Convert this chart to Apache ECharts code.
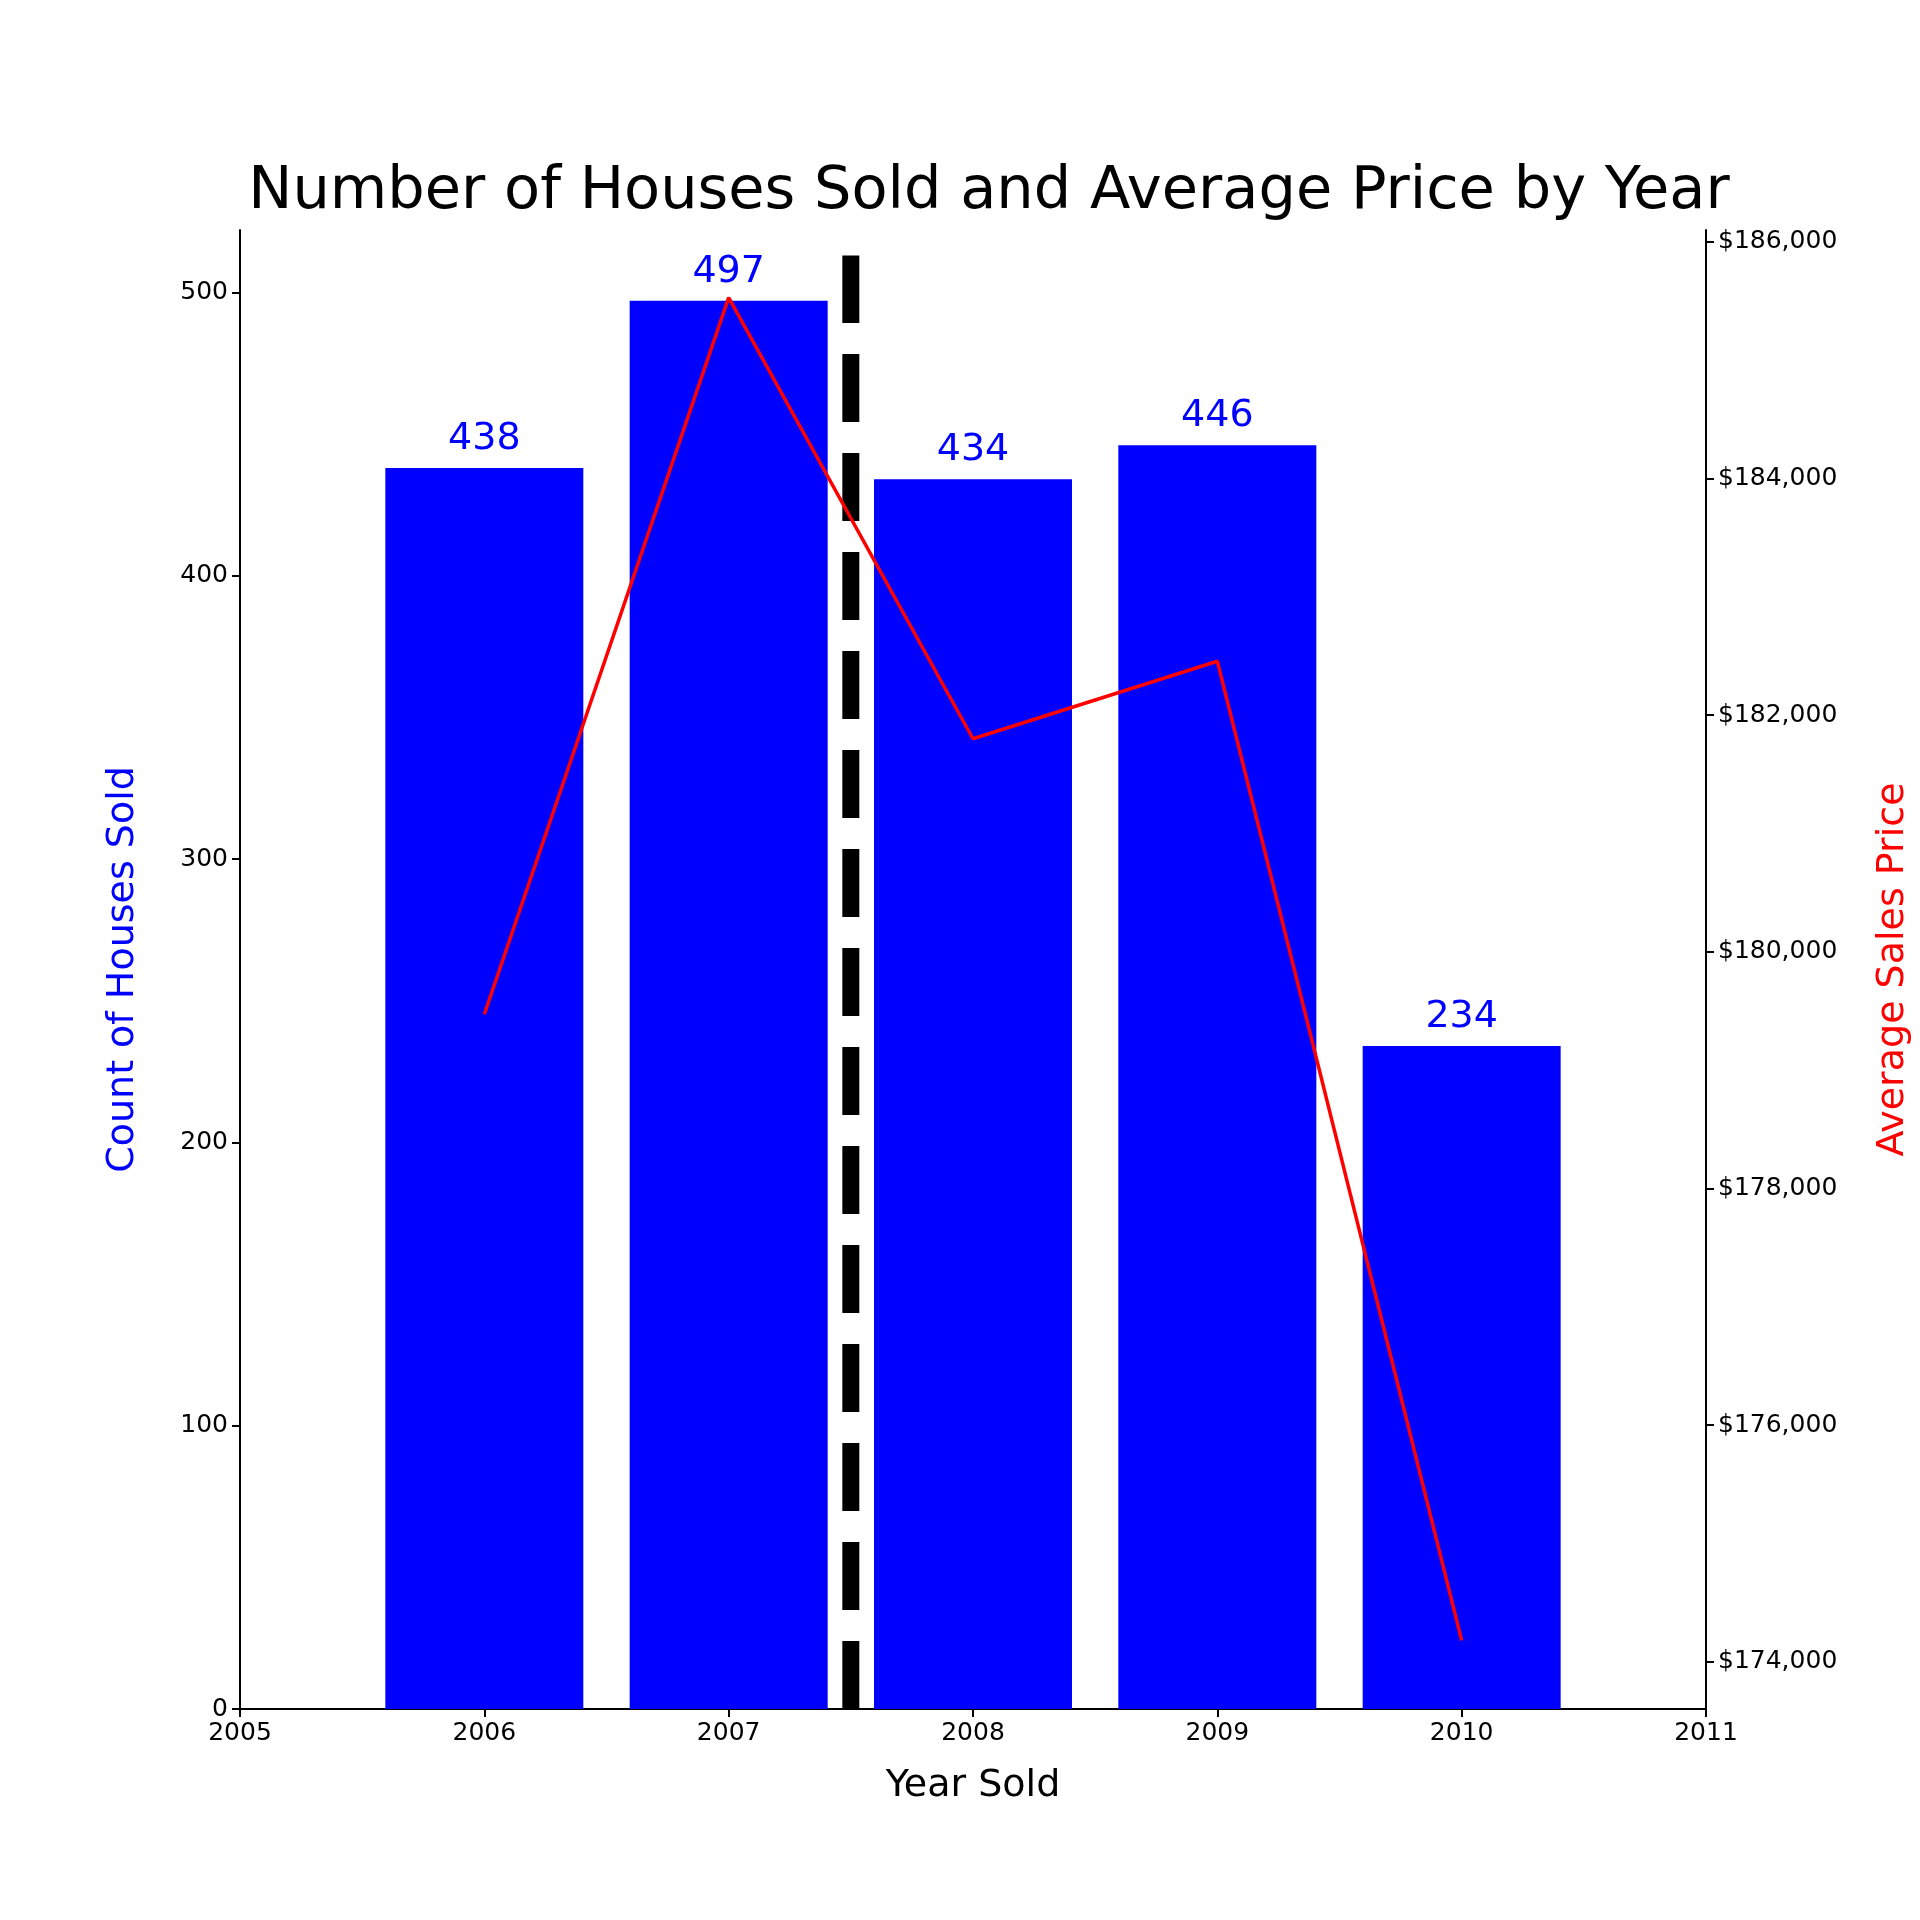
<!DOCTYPE html>
<html><head><meta charset="utf-8">
<script src="https://cdn.jsdelivr.net/npm/echarts@6/dist/echarts.min.js"></script>
<style>html,body{margin:0;background:#fff}#c{width:1920px;height:1920px}</style>
</head><body><div id="c"></div>
<script>
const years = [2006, 2007, 2008, 2009, 2010];
const counts = [438, 497, 434, 446, 234];
const prices = [179472, 185528, 181800, 182455, 174180];
const priceTicks = [174000, 176000, 178000, 180000, 182000, 184000, 186000];
const splitYear = 2007.5;
const splitTop = 513;

const font = 'DejaVu Sans';
const chart = echarts.init(document.getElementById('c'));
const money = v => '$' + Math.round(v).toLocaleString('en-US');
chart.setOption({
  animation: false,
  textStyle: { fontFamily: font },
  title: {
    text: 'Number of Houses Sold and Average Price by Year',
    left: 984, top: 158, textAlign: 'center',
    textStyle: { fontSize: 59, fontWeight: 'normal', color: '#000', fontFamily: font }
  },
  grid: { left: 240, right: 192, top: 230, bottom: 211 },
  xAxis: {
    type: 'value', min: 2005, max: 2011, interval: 1,
    name: 'Year Sold', nameLocation: 'middle', nameGap: 58,
    nameTextStyle: { fontSize: 38, color: '#000' },
    axisLine: { lineStyle: { color: '#000', width: 2 } },
    axisTick: { show: true, length: 8, lineStyle: { color: '#000', width: 2 } },
    axisLabel: { fontSize: 25, color: '#000', margin: 12, formatter: v => String(v) },
    splitLine: { show: false }
  },
  yAxis: [{
    type: 'value', min: 0, max: 522, interval: 100,
    name: 'Count of Houses Sold', nameLocation: 'middle', nameGap: 98, nameRotate: 90,
    nameTextStyle: { fontSize: 38, color: 'blue' },
    axisLine: { show: true, lineStyle: { color: '#000', width: 2 } },
    axisTick: { show: true, length: 8, lineStyle: { color: '#000', width: 2 } },
    axisLabel: { fontSize: 25, color: '#000', margin: 12, showMaxLabel: false },
    splitLine: { show: false }
  }, {
    type: 'value', min: 173600, max: 186100,
    name: 'Average Sales Price', nameLocation: 'middle', nameGap: 168, nameRotate: 90,
    nameTextStyle: { fontSize: 38, color: 'red' },
    axisLine: { show: true, lineStyle: { color: '#000', width: 2 } },
    axisLabel: { fontSize: 25, color: '#000', margin: 12, customValues: priceTicks, formatter: money },
    axisTick: { show: true, length: 8, lineStyle: { color: '#000', width: 2 }, customValues: priceTicks },
    splitLine: { show: false }
  }],
  series: [{
    type: 'bar', barWidth: 198, yAxisIndex: 0,
    data: years.map((y, i) => [y, counts[i]]),
    itemStyle: { color: 'blue' },
    label: { show: true, position: 'top', distance: 10, fontSize: 38, color: 'blue',
      formatter: p => p.value[1] }
  }, {
    type: 'line', yAxisIndex: 0, symbol: 'none', z: 5,
    data: [[splitYear, 0], [splitYear, splitTop]],
    lineStyle: { color: '#000', width: 17, type: [68, 31], cap: 'butt' }
  }, {
    type: 'line', yAxisIndex: 1, symbol: 'circle', symbolSize: 1, showSymbol: true, z: 6,
    itemStyle: { color: 'red', opacity: 0 },
    data: years.map((y, i) => [y, prices[i]]),
    lineStyle: { color: 'red', width: 3.5 },
    label: { show: true, position: 'inside', offset: [0, 13], fontSize: 28, color: 'red',
      backgroundColor: '#fff', padding: [7, 8],
      formatter: p => money(p.value[1]) }
  }]
});
</script></body></html>
